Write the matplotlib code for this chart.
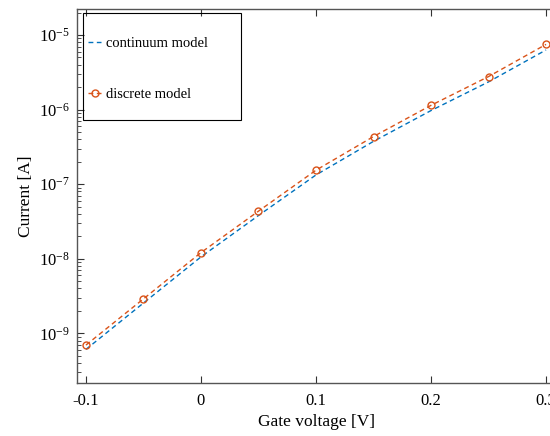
import matplotlib
matplotlib.use("Agg")
import matplotlib.pyplot as plt
from matplotlib.patches import Rectangle
from matplotlib.ticker import LogLocator, NullFormatter, FixedLocator

plt.rcParams['font.family'] = ['Liberation Serif', 'DejaVu Serif']
plt.rcParams['mathtext.fontset'] = 'stix'
plt.rcParams['axes.unicode_minus'] = False

gate_voltage = [-0.1, -0.05, 0.0, 0.05, 0.1, 0.15, 0.2, 0.25, 0.3]
continuum_current = [6.1e-10, 2.55e-9, 1.06e-8, 3.8e-8, 1.33e-7, 3.75e-7, 9.7e-7, 2.35e-6, 6.3e-6]
discrete_current = [6.97e-10, 2.9e-9, 1.21e-8, 4.35e-8, 1.54e-7, 4.35e-7, 1.14e-6, 2.77e-6, 7.48e-6]
x_ticks = [-0.1, 0.0, 0.1, 0.2, 0.3]
x_tick_labels = ['-0.1', '0', '0.1', '0.2', '0.3']
y_ticks = [1e-9, 1e-8, 1e-7, 1e-6, 1e-5]

W, H = 550, 436
fig = plt.figure(figsize=(5.5, 4.36), dpi=100)
ax = fig.add_axes([77 / W, 1 - 383 / H, (555 - 77) / W, (383 - 9) / H])

blue = '#0072BD'
orange = '#D95319'
ls = (0, (3.5, 2.5))
ax.plot(gate_voltage, continuum_current, color=blue, lw=1.0, linestyle=ls, label='continuum model')
ax.plot(gate_voltage, discrete_current, color=orange, lw=1.0, linestyle=ls, marker='o',
        markersize=5, markerfacecolor='none', markeredgewidth=1.0, label='discrete model')

ax.set_yscale('log')
ax.set_xlim(-0.1078, 0.3078)
ax.set_ylim(2.16e-10, 2.23e-5)
ax.xaxis.set_major_locator(FixedLocator(x_ticks))
ax.set_xticklabels(x_tick_labels)
ax.yaxis.set_major_locator(FixedLocator(y_ticks))
ax.yaxis.set_minor_locator(LogLocator(base=10, subs=range(2, 10), numticks=20))
ax.yaxis.set_minor_formatter(NullFormatter())

spine_col = '#555555'
for s in ['left', 'bottom', 'top']:
    ax.spines[s].set_color(spine_col)
    ax.spines[s].set_linewidth(1.0)
ax.spines['right'].set_visible(False)
ax.tick_params(axis='both', which='both', direction='in', colors='#333333', labelcolor='black',
               labelsize=12)
ax.tick_params(axis='x', top=True, length=5, pad=7)
ax.tick_params(axis='y', which='major', length=5, pad=5)
ax.tick_params(axis='y', which='minor', length=3)

ax.set_xlabel('Gate voltage [V]', fontsize=12.5, labelpad=4)
ax.set_ylabel('Current [A]', fontsize=12.5, labelpad=4)

fig.patches.append(Rectangle((83 / W, 1 - 120 / H), (241 - 83) / W, (120 - 13) / H,
                             transform=fig.transFigure, fill=False, edgecolor='black', lw=0.8))
leg = ax.legend(loc='upper left', bbox_to_anchor=(88 / W, 1 - 37 / H), bbox_transform=fig.transFigure,
                frameon=False, fontsize=10.5, borderaxespad=0, borderpad=0,
                handlelength=0.9, handletextpad=0.35, labelspacing=2.6)

fig.savefig('out.png', dpi=100)
